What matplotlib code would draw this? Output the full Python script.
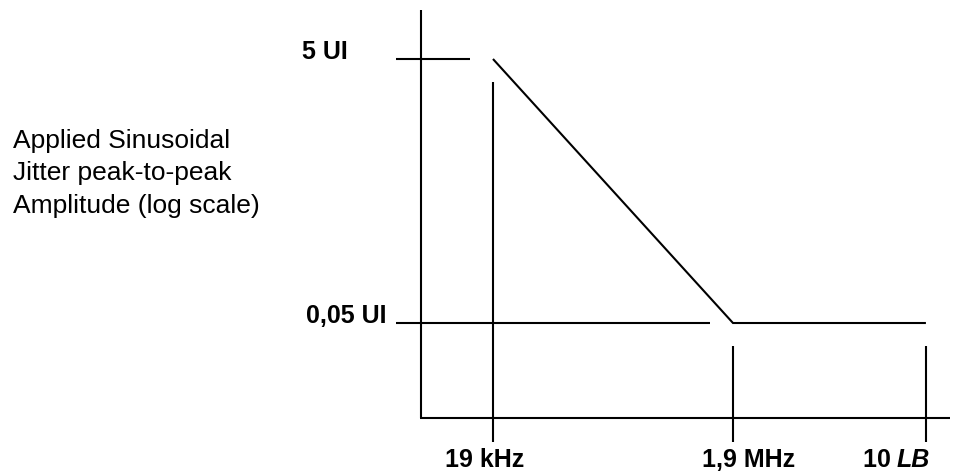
import matplotlib
matplotlib.use("Agg")
import matplotlib.pyplot as plt

# ---- data ----
mask_freq = [19e3, 1.9e6, 7.7e7]          # Hz (schematic)
mask_amp = [5.0, 0.05, 0.05]               # UI
amp_ticks = [5.0, 0.05]
amp_labels = ["5 UI", "0,05 UI"]
freq_ticks = [19e3, 1.9e6, 7.7e7]
freq_labels = ["19 kHz", "1,9 MHz", "10 "]
ylabel_lines = ["Applied Sinusoidal", "Jitter peak-to-peak", "Amplitude (log scale)"]

W, H = 959, 472
FONT = "Liberation Sans"
LW = 1.5

fig = plt.figure(figsize=(W / 100, H / 100), dpi=100)
ax = fig.add_axes([0, 0, 1, 1])
ax.set_xscale("log")
ax.set_yscale("log")
ax.set_xlim(1.481, 1.453e8)
ax.set_ylim(0.003718, 13.99)
ax.axis("off")

def fx(px):
    return px / W

def fy(py):
    return 1 - py / H

# axes lines
ax.plot([fx(421), fx(421)], [fy(10), fy(418)], color="black", lw=LW,
        transform=ax.transAxes, solid_capstyle="butt")
ax.plot([fx(420), fx(950)], [fy(418), fy(418)], color="black", lw=LW,
        transform=ax.transAxes, solid_capstyle="butt")

# amplitude reference lines
ytr = ax.get_yaxis_transform()
amp_line_ends = [470, 710]
for a, xe in zip(amp_ticks, amp_line_ends):
    ax.plot([fx(396), fx(xe)], [a, a], color="black", lw=LW, transform=ytr,
            solid_capstyle="butt")

# frequency reference lines
xtr = ax.get_xaxis_transform()
freq_line_tops = [82, 346, 346]
for f, yt in zip(freq_ticks, freq_line_tops):
    ax.plot([f, f], [fy(442), fy(yt)], color="black", lw=LW, transform=xtr,
            solid_capstyle="butt")

# mask
ax.plot(mask_freq, mask_amp, color="black", lw=LW, solid_capstyle="butt",
        solid_joinstyle="miter")

# amplitude labels
amp_label_right = [348, 386]
for a, lab, xr in zip(amp_ticks, amp_labels, amp_label_right):
    ax.text(fx(xr), a, lab, transform=ytr, ha="right", va="baseline",
            fontsize=18, fontweight="bold", family=FONT)

# frequency labels
freq_label_x = [484.5, 748.5]
for lab, xc in zip(freq_labels[:2], freq_label_x):
    ax.text(fx(xc), fy(467), lab, transform=ax.transAxes, ha="center",
            va="baseline", fontsize=18, fontweight="bold", family=FONT)
ax.text(fx(863), fy(467), freq_labels[2], transform=ax.transAxes, ha="left",
        va="baseline", fontsize=18, fontweight="bold", family=FONT)
ax.text(fx(897), fy(467), "LB", transform=ax.transAxes, ha="left",
        va="baseline", fontsize=18, fontweight="bold", fontstyle="italic",
        family=FONT)

# y-axis description
for line, yb in zip(ylabel_lines, [148, 180, 213]):
    ax.text(fx(13), fy(yb), line, transform=ax.transAxes, ha="left",
            va="baseline", fontsize=19, family=FONT)

fig.savefig("out.png", dpi=100)
